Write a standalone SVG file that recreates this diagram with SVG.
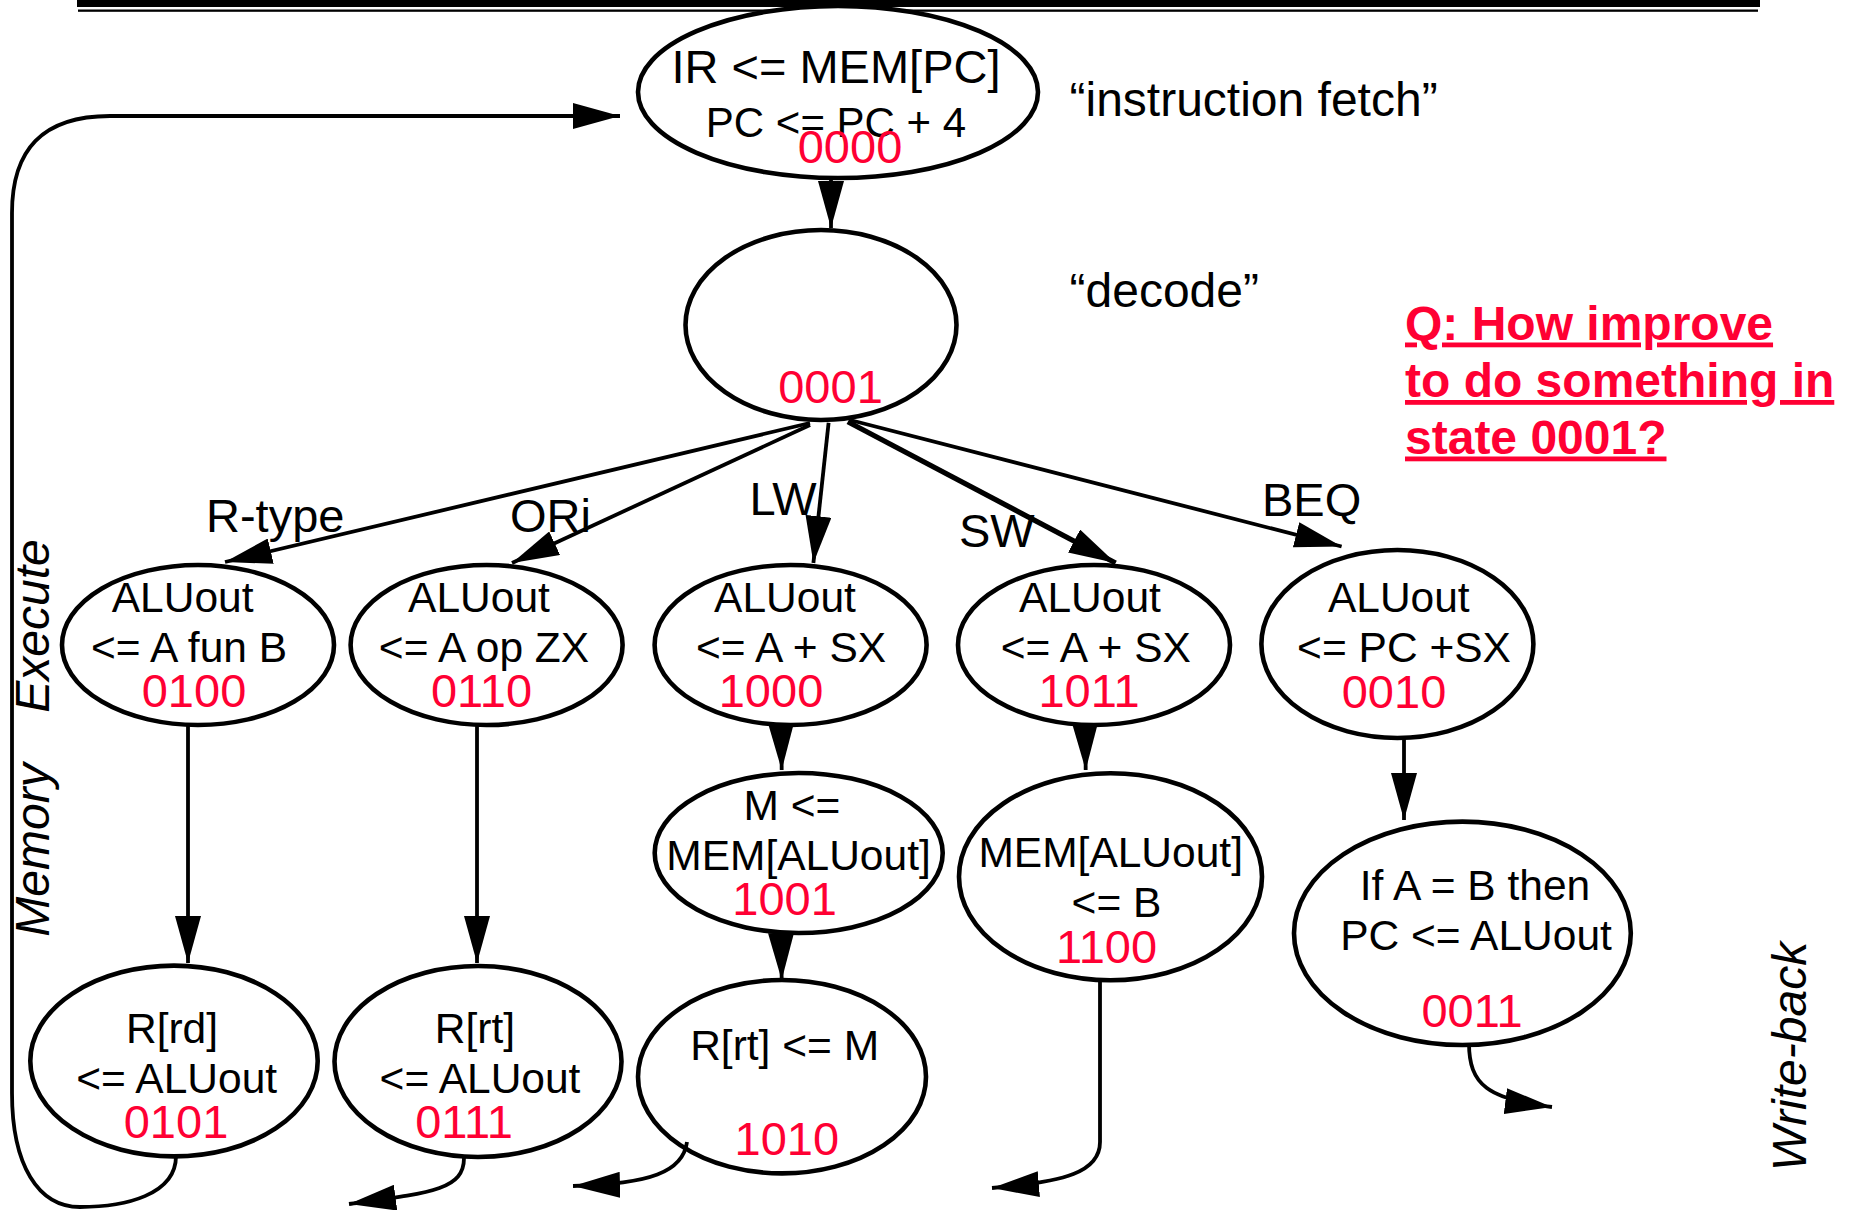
<svg xmlns="http://www.w3.org/2000/svg" width="1853" height="1210" viewBox="0 0 1853 1210">
  <defs>
    <style>
      .node ellipse { fill: #fff; stroke: #000; stroke-width: 4.6; }
      text { font-family: "Liberation Sans", Arial, sans-serif; fill: #000; }
      .t { font-size: 42.5px; text-anchor: middle; }
      .code { font-size: 47px; text-anchor: middle; fill: #ff0033; }
      .lbl { font-size: 47px; }
      .note { font-size: 48px; }
      .q { font-size: 48px; font-weight: bold; fill: #ff0033; text-decoration: underline; }
      .side { font-size: 48px; font-style: italic; text-anchor: middle; }
      .edge { fill: none; stroke: #000; stroke-width: 3.8; marker-end: url(#arrow); }
    </style>
    <marker id="arrow" viewBox="0 0 47 26" markerWidth="47" markerHeight="26" refX="47" refY="13" orient="auto" markerUnits="userSpaceOnUse">
      <path d="M0,0 L47,13 L0,26 z" fill="#000"/>
    </marker>
  </defs>

  <rect width="1853" height="1210" fill="#fff"/>

  <!-- title rule -->
  <rect x="77" y="0" width="1683" height="7" fill="#000"/>
  <rect x="78" y="9.5" width="1680" height="2.3" fill="#000"/>

  <!-- stage labels -->
  <text class="side" transform="translate(49,626) rotate(-90)">Execute</text>
  <text class="side" transform="translate(49,850) rotate(-90)">Memory</text>
  <text class="side" transform="translate(1806,1056.5) rotate(-90)">Write-back</text>

  <!-- annotations -->
  <text class="note" x="1069.5" y="116">“instruction fetch”</text>
  <text class="note" x="1069.5" y="307">“decode”</text>
  <text class="q" x="1405" y="339.5">Q: How improve</text>
  <text class="q" x="1405" y="397">to do something in</text>
  <text class="q" x="1405" y="453.5">state 0001?</text>

  <!-- edge labels -->
  <text class="lbl" x="206" y="532">R-type</text>
  <text class="lbl" x="510" y="532">ORi</text>
  <text class="lbl" x="749.5" y="515">LW</text>
  <text class="lbl" x="959" y="547">SW</text>
  <text class="lbl" x="1262" y="516">BEQ</text>

  <!-- states -->
  <g id="s0000" class="node">
    <ellipse cx="838" cy="92" rx="200" ry="86"/>
    <text class="t" x="836" y="83" style="font-size:47px">IR &lt;= MEM[PC]</text>
    <text class="t" x="836" y="136.7" style="font-size:42px">PC &lt;= PC + 4</text>
    <text class="code" x="850" y="163">0000</text>
  </g>
  <g id="s0001" class="node">
    <ellipse cx="821" cy="325" rx="135.5" ry="95"/>
    <text class="code" x="830.5" y="403">0001</text>
  </g>
  <g id="s0100" class="node">
    <ellipse cx="198" cy="645" rx="136" ry="80"/>
    <text class="t" x="182.6" y="611.7">ALUout</text>
    <text class="t" x="189" y="661.7">&lt;= A fun B</text>
    <text class="code" x="194" y="706.7">0100</text>
  </g>
  <g id="s0110" class="node">
    <ellipse cx="486.6" cy="645" rx="136" ry="80"/>
    <text class="t" x="479" y="611.7">ALUout</text>
    <text class="t" x="484" y="661.7">&lt;= A op ZX</text>
    <text class="code" x="481.5" y="706.7">0110</text>
  </g>
  <g id="s1000" class="node">
    <ellipse cx="790.6" cy="645" rx="136" ry="80"/>
    <text class="t" x="785" y="611.7">ALUout</text>
    <text class="t" x="791" y="661.7">&lt;= A + SX</text>
    <text class="code" x="771" y="706.7">1000</text>
  </g>
  <g id="s1011" class="node">
    <ellipse cx="1094" cy="645" rx="136" ry="80"/>
    <text class="t" x="1090" y="611.7">ALUout</text>
    <text class="t" x="1095.8" y="661.7">&lt;= A + SX</text>
    <text class="code" x="1089" y="706.7">1011</text>
  </g>
  <g id="s0010" class="node">
    <ellipse cx="1397.4" cy="644" rx="136" ry="94"/>
    <text class="t" x="1398.8" y="611.7">ALUout</text>
    <text class="t" x="1404" y="662">&lt;= PC +SX</text>
    <text class="code" x="1394" y="708">0010</text>
  </g>
  <g id="s1001" class="node">
    <ellipse cx="798.7" cy="853" rx="144" ry="80"/>
    <text class="t" x="792" y="820">M &lt;=</text>
    <text class="t" x="798.5" y="870">MEM[ALUout]</text>
    <text class="code" x="784.6" y="915">1001</text>
  </g>
  <g id="s1100" class="node">
    <ellipse cx="1110.5" cy="876.7" rx="151.5" ry="103.5"/>
    <text class="t" x="1110.7" y="866.7">MEM[ALUout]</text>
    <text class="t" x="1116.5" y="916.7">&lt;= B</text>
    <text class="code" x="1106.6" y="963">1100</text>
  </g>
  <g id="s0011" class="node">
    <ellipse cx="1462.4" cy="933.3" rx="168.4" ry="111.7"/>
    <text class="t" x="1475" y="900">If A = B then</text>
    <text class="t" x="1476" y="950">PC &lt;= ALUout</text>
    <text class="code" x="1472" y="1026.7">0011</text>
  </g>
  <g id="s0101" class="node">
    <ellipse cx="174" cy="1061" rx="143.7" ry="95.4"/>
    <text class="t" x="172" y="1043">R[rd]</text>
    <text class="t" x="176.7" y="1093">&lt;= ALUout</text>
    <text class="code" x="176" y="1138">0101</text>
  </g>
  <g id="s0111" class="node">
    <ellipse cx="478" cy="1061.5" rx="143.5" ry="95.5"/>
    <text class="t" x="475" y="1043">R[rt]</text>
    <text class="t" x="480" y="1093">&lt;= ALUout</text>
    <text class="code" x="464" y="1138">0111</text>
  </g>
  <g id="s1010" class="node">
    <ellipse cx="782" cy="1076.7" rx="144" ry="96.7"/>
    <text class="t" x="784.6" y="1060">R[rt] &lt;= M</text>
    <text class="code" x="786.8" y="1155">1010</text>
  </g>

  <!-- transitions -->
  <g id="connectors">
    <path class="edge" d="M831,178 L831,228"/>
    <path class="edge" d="M810,423 L225,562"/>
    <path class="edge" d="M810,425 L512,563"/>
    <path class="edge" d="M828.6,422.7 L813.4,563"/>
    <path class="edge" d="M847.8,421.7 L1115.6,563" style="stroke-width:5.2"/>
    <path class="edge" d="M850,420 L1341.6,546.5"/>
    <path class="edge" d="M188,725 L188,963"/>
    <path class="edge" d="M477,725 L477,963"/>
    <path class="edge" d="M781,723 L781.7,770"/>
    <path class="edge" d="M1085,723 L1085.7,770"/>
    <path class="edge" d="M781,931 L781.7,980"/>
    <path class="edge" d="M1404,738 L1404,820"/>
    <!-- return to fetch -->
    <path class="edge" d="M176,1156 C176,1195 125,1207 80,1207 C38,1207 12,1165 12,1093 L12,213 C12,150 42,116 110,116 L620,116"/>
    <!-- exits that lead back to fetch -->
    <path class="edge" d="M464,1158 C464,1190 430,1193 349,1204"/>
    <path class="edge" d="M687,1142 C683,1172 650,1184 573,1186"/>
    <path class="edge" d="M1100,982 L1100,1142 C1100,1172 1065,1182 992,1188"/>
    <path class="edge" d="M1469,1043 C1469,1085 1488,1099 1552,1107"/>
  </g>
</svg>
